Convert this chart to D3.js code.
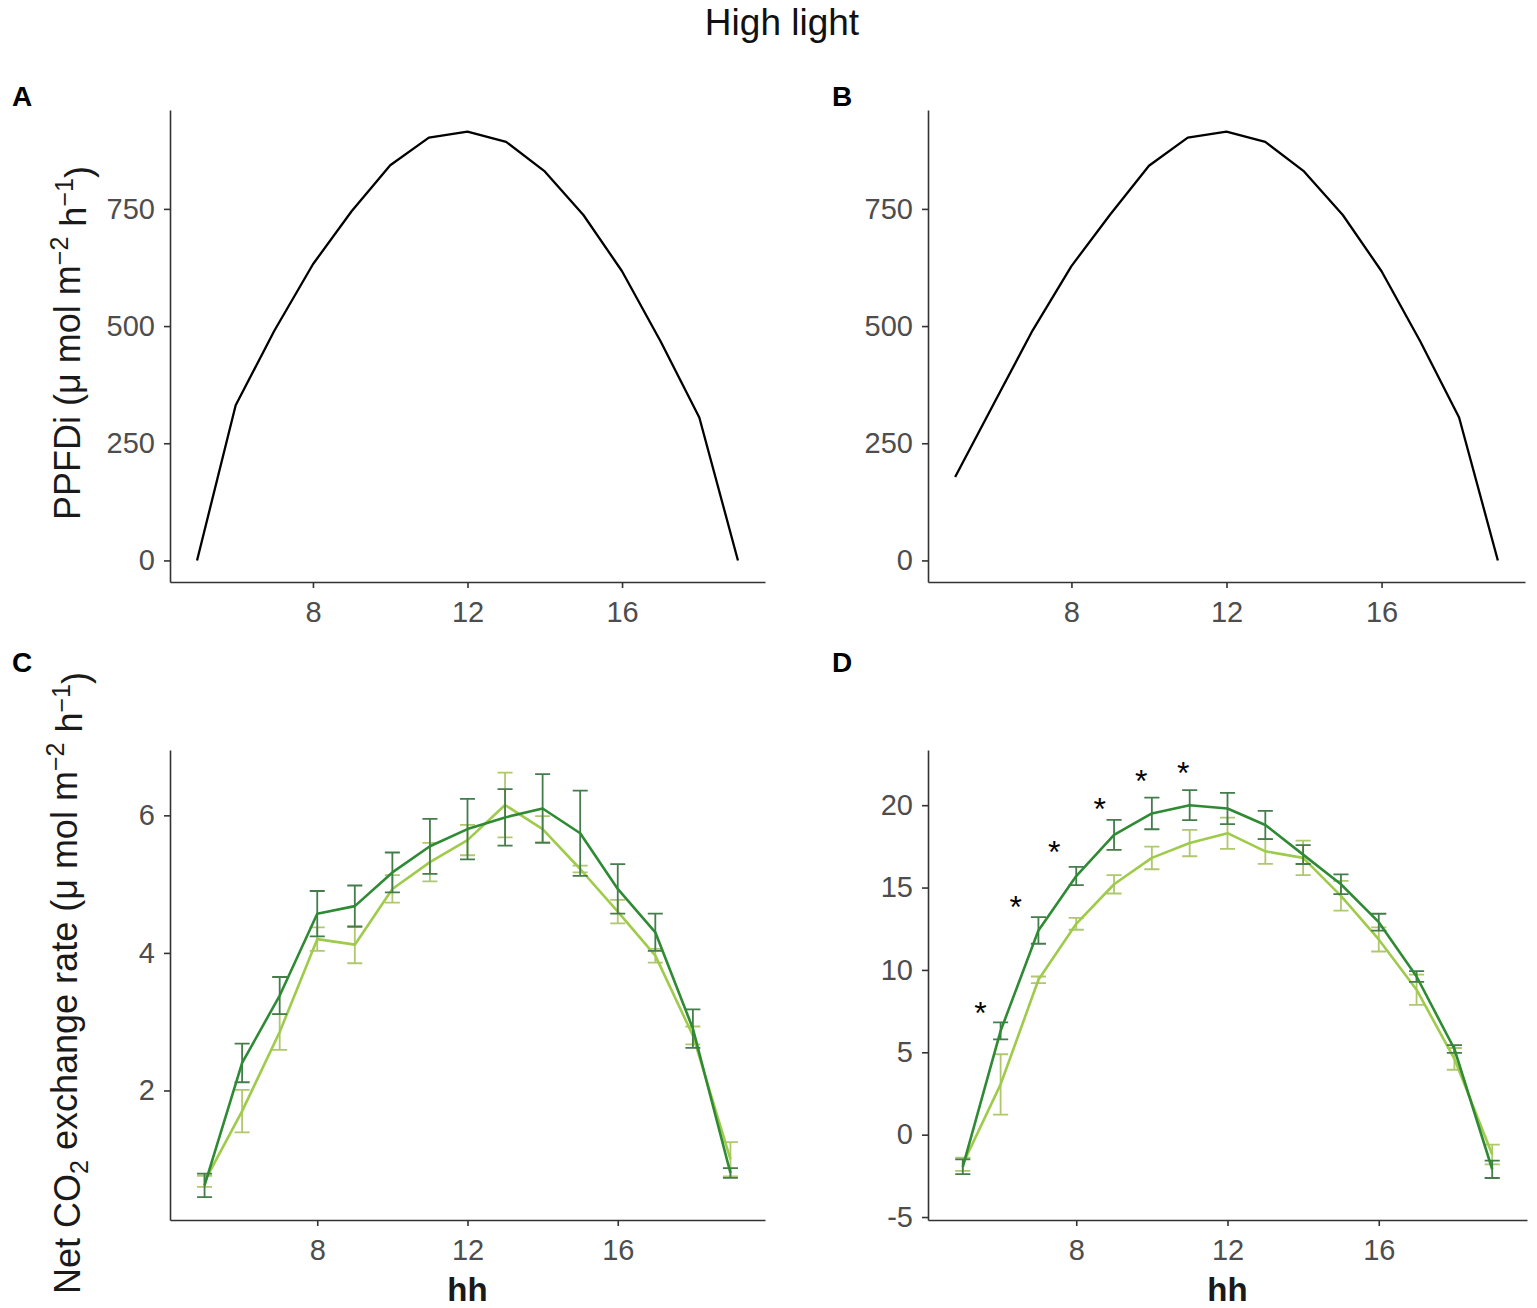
<!DOCTYPE html>
<html lang="en">
<head>
    <meta charset="UTF-8">
    <title>High light</title>
    <script src="https://d3js.org/d3.v7.min.js"></script>
    <style>
        body { margin: 0; background: white; }
        svg { font-family: "Liberation Sans", Arial, sans-serif; }
        .axis path, .axis line { stroke: #333; stroke-width: 1.6px; }
        .axis text { fill: #4d4d4d; font-size: 29px; }
        .ttl { fill: #1a1a1a; font-size: 36px; }
        .panel-label { font-size: 28px; font-weight: bold; fill: #000; }
        .err { fill: none; stroke-width: 1.8px; }
        .line { fill: none; stroke-linejoin: round; }
    </style>
</head>
<body>
    <div id="chart"></div>

    <script>
        // hours of the day
        const hours = [5, 6, 7, 8, 9, 10, 11, 12, 13, 14, 15, 16, 17, 18, 19];

        // PPFDi, panels A and B
        const ppfdA = [0, 331, 490, 632, 745, 843, 902, 915, 893, 830, 737, 617, 467, 305, 0];
        const ppfdB = [178, 335, 491, 628, 738, 842, 902, 915, 893, 830, 737, 617, 467, 305, 0];

        // net CO2 exchange, panel C
        const cDark = [0.62, 2.4, 3.38, 4.57, 4.68, 5.17, 5.55, 5.8, 5.97, 6.1, 5.74, 4.93, 4.3, 2.9, 0.8];
        const cDarkSe = [0.17, 0.28, 0.27, 0.33, 0.3, 0.29, 0.4, 0.44, 0.41, 0.5, 0.62, 0.36, 0.27, 0.28, 0.07];
        const cLight = [0.68, 1.7, 2.85, 4.2, 4.12, 4.93, 5.32, 5.64, 6.15, 5.8, 5.22, 4.6, 3.96, 2.8, 1.0];
        const cLightSe = [0.08, 0.31, 0.26, 0.17, 0.27, 0.2, 0.28, 0.22, 0.47, 0.19, 0.05, 0.17, 0.1, 0.13, 0.25];

        // net CO2 exchange, panel D
        const dDark = [-1.95, 6.3, 12.4, 15.7, 18.2, 19.5, 20.0, 19.8, 18.8, 17.0, 15.2, 12.9, 9.6, 5.2, -2.1];
        const dDarkSe = [0.45, 0.52, 0.81, 0.55, 0.91, 0.96, 0.91, 0.95, 0.86, 0.57, 0.6, 0.51, 0.33, 0.24, 0.53];
        const dLight = [-1.8, 3.05, 9.4, 12.8, 15.2, 16.8, 17.7, 18.3, 17.2, 16.8, 14.5, 11.85, 8.8, 4.6, -1.2];
        const dLightSe = [0.4, 1.83, 0.2, 0.36, 0.56, 0.69, 0.8, 0.95, 0.76, 1.05, 0.9, 0.73, 0.92, 0.66, 0.6];

        // significance marks in D
        const starX = [5.47, 6.4, 7.42, 8.62, 9.72, 10.83];
        const starY = [7.8, 14.25, 17.6, 20.2, 21.9, 22.4];

        const ticksPPFD = [0, 250, 500, 750];
        const ticksC = [2, 4, 6];
        const ticksD = [-5, 0, 5, 10, 15, 20];
        const ticksHour = [8, 12, 16];

        const darkLine = "#2f8a34", darkErr = "#447c4c";
        const lightLine = "#9fcb4a", lightErr = "#afc76f";

        const width = 1537, height = 1308;

        const svg = d3.select("#chart")
            .append("svg")
            .attr("width", width)
            .attr("height", height);

        svg.append("text")
            .attr("x", 782).attr("y", 35)
            .attr("text-anchor", "middle")
            .style("font-size", "37px")
            .style("fill", "#111")
            .text("High light");

        function panel(box, xDom, yDom, yTicks, label) {
            const x = d3.scaleLinear().domain(xDom).range([box.l, box.r]);
            const y = d3.scaleLinear().domain(yDom).range([box.b, box.t]);

            svg.append("g")
                .attr("class", "axis")
                .attr("transform", `translate(0,${box.b})`)
                .call(d3.axisBottom(x).tickValues(ticksHour).tickFormat(d => String(d))
                    .tickSize(6).tickPadding(13).tickSizeOuter(0));

            svg.append("g")
                .attr("class", "axis")
                .attr("transform", `translate(${box.l},0)`)
                .call(d3.axisLeft(y).tickValues(yTicks).tickFormat(d => String(d))
                    .tickSize(6).tickPadding(9).tickSizeOuter(0));

            svg.selectAll(".domain").attr("fill", "none");

            svg.append("text")
                .attr("class", "panel-label")
                .attr("x", label.x).attr("y", label.y)
                .text(label.t);

            return { x, y };
        }

        function series(sc, vals, se, lineColor, errColor, w) {
            const pts = hours.map((h, i) => ({ h, v: vals[i], s: se ? se[i] : 0 }));
            if (se) {
                const hw = 0.2;
                const g = svg.append("g").attr("stroke", errColor).attr("class", "err");
                pts.forEach(p => {
                    const lo = sc.y(p.v - p.s), hi = sc.y(p.v + p.s);
                    g.append("path").attr("d",
                        `M${sc.x(p.h - hw)},${hi}H${sc.x(p.h + hw)}` +
                        `M${sc.x(p.h)},${hi}V${lo}` +
                        `M${sc.x(p.h - hw)},${lo}H${sc.x(p.h + hw)}`);
                });
            }
            svg.append("path")
                .datum(pts)
                .attr("class", "line")
                .attr("stroke", lineColor)
                .attr("stroke-width", w)
                .attr("d", d3.line().x(d => sc.x(d.h)).y(d => sc.y(d.v)));
        }

        function yTitle(cx, cy, parts) {
            const t = svg.append("text")
                .attr("class", "ttl")
                .attr("text-anchor", "middle")
                .attr("transform", `translate(${cx},${cy}) rotate(-90)`);
            parts.forEach(p => {
                const s = t.append("tspan").text(p[0]);
                if (p[1] === "sup") s.attr("dy", "-0.5em").style("font-size", "25px");
                if (p[1] === "sub") s.attr("dy", "0.3em").style("font-size", "25px");
                if (p[1] === "up") s.attr("dy", "0.5em");
                if (p[1] === "down") s.attr("dy", "-0.3em");
            });
        }

        const A = panel({ l: 170, r: 765, t: 110, b: 582 }, [4.3, 19.7], [-46, 961], ticksPPFD, { t: "A", x: 12, y: 106 });
        series(A, ppfdA, null, "#000", null, 2.3);

        const B = panel({ l: 928, r: 1525, t: 110, b: 582 }, [4.3, 19.7], [-46, 961], ticksPPFD, { t: "B", x: 832, y: 106 });
        series(B, ppfdB, null, "#000", null, 2.3);

        const C = panel({ l: 170, r: 765, t: 750, b: 1220 }, [4.08, 19.92], [0.117, 6.95], ticksC, { t: "C", x: 12, y: 672 });
        series(C, cLight, cLightSe, lightLine, lightErr, 2.6);
        series(C, cDark, cDarkSe, darkLine, darkErr, 2.6);

        const D = panel({ l: 928, r: 1527, t: 750, b: 1220 }, [4.08, 19.92], [-5.18, 23.35], ticksD, { t: "D", x: 832, y: 672 });
        series(D, dLight, dLightSe, lightLine, lightErr, 2.6);
        series(D, dDark, dDarkSe, darkLine, darkErr, 2.6);

        svg.append("g").selectAll("text")
            .data(starX)
            .join("text")
            .attr("x", d => D.x(d))
            .attr("y", (d, i) => D.y(starY[i]) + 18)
            .attr("text-anchor", "middle")
            .style("font-size", "32px")
            .text("*");

        // axis titles
        yTitle(80, 343, [["PPFDi (μ mol m"], ["−2", "sup"], [" h", "up"], ["−1", "sup"], [")", "up"]]);
        yTitle(80, 983, [["Net CO"], ["2", "sub"], [" exchange rate (μ mol m", "down"], ["−2", "sup"], [" h", "up"], ["−1", "sup"], [")", "up"]]);

        [C, D].forEach(sc => {
            svg.append("text")
                .attr("x", (sc.x.range()[0] + sc.x.range()[1]) / 2)
                .attr("y", 1301)
                .attr("text-anchor", "middle")
                .style("font-size", "33px")
                .style("font-weight", "bold")
                .style("fill", "#1a1a1a")
                .text("hh");
        });
    </script>
</body>
</html>
